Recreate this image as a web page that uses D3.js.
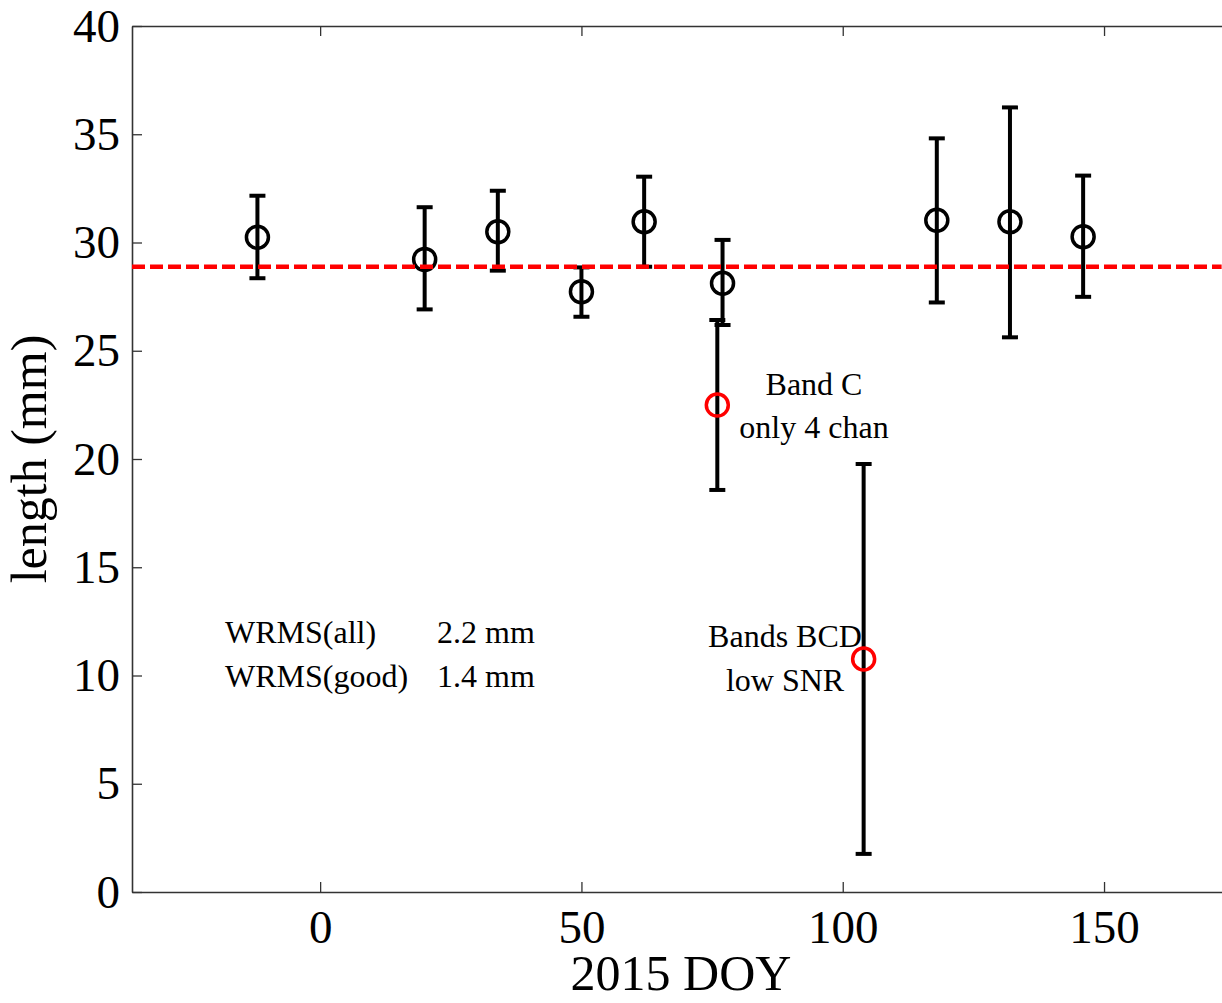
<!DOCTYPE html>
<html>
<head>
<meta charset="utf-8">
<script src="https://cdn.jsdelivr.net/npm/d3@7"></script>
<style>
  html, body { margin: 0; padding: 0; background: #fff; }
  svg { display: block; }
  text { font-family: "Liberation Serif", "Times New Roman", serif; fill: #000; }
</style>
</head>
<body>
<script>
// ---- data ----
const goodDoy    = [-12, 20, 34, 50, 62, 77, 118, 132, 146];
const goodLength = [30.24, 29.22, 30.50, 27.73, 30.96, 28.12, 31.03, 30.96, 30.27];
const goodLow    = [28.35, 26.91, 28.70, 26.57, 28.88, 26.19, 27.23, 25.62, 27.49];
const goodHigh   = [32.16, 31.63, 32.39, 28.85, 33.04, 30.12, 34.81, 36.24, 33.09];

const badDoy     = [76, 104];
const badLength  = [22.49, 10.76];
const badLow     = [18.57, 1.76];
const badHigh    = [26.42, 19.77];

const meanLength = 28.88;

const xTicks = [0, 50, 100, 150];
const yTicks = [0, 5, 10, 15, 20, 25, 30, 35, 40];
const xDomain = [-36, 172.5];
const yDomain = [0, 40];

const statsLabels = ["WRMS(all)", "WRMS(good)"];
const statsValues = ["2.2 mm", "1.4 mm"];
const note1 = ["Band C", "only 4 chan"];
const note2 = ["Bands BCD", "low SNR"];

// ---- layout ----
const W = 1222, H = 1003;
const mLeft = 132, mTop = 26, mBottom = 892;
const mRight = mLeft + (xDomain[1] - xDomain[0]) * 5.226;

const svg = d3.select("body").append("svg").attr("width", W).attr("height", H);

const x = d3.scaleLinear().domain(xDomain).range([mLeft, mRight]);
const y = d3.scaleLinear().domain(yDomain).range([mBottom, mTop]);

const axisColor = "#333";

// bottom axis
const gx = svg.append("g").attr("transform", `translate(0,${mBottom})`)
  .call(d3.axisBottom(x).tickValues(xTicks).tickSizeInner(-10).tickSizeOuter(0).tickPadding(18).tickFormat(d3.format("d")));
// left axis
const gy = svg.append("g").attr("transform", `translate(${mLeft},0)`)
  .call(d3.axisLeft(y).tickValues(yTicks).tickSizeInner(-10).tickSizeOuter(0).tickPadding(12).tickFormat(d3.format("d")));
// top axis (mirror ticks, no labels)
const gt = svg.append("g").attr("transform", `translate(0,${mTop})`)
  .call(d3.axisTop(x).tickValues(xTicks).tickSizeInner(-10).tickSizeOuter(0).tickFormat(""));

[gx, gy, gt].forEach(g => {
  g.select(".domain").attr("stroke", axisColor).attr("stroke-width", 1.6);
  g.selectAll(".tick line").attr("stroke", axisColor).attr("stroke-width", 1.3);
  g.selectAll(".tick text").attr("font-size", 47).attr("fill", "#000")
    .style("font-family", '"Liberation Serif", "Times New Roman", serif');
});

// axis labels
svg.append("text").attr("x", 681).attr("y", 990).attr("text-anchor", "middle")
  .attr("font-size", 50).text("2015 DOY");
svg.append("text").attr("transform", `translate(46,${(mTop + mBottom) / 2}) rotate(-90)`)
  .attr("text-anchor", "middle").attr("font-size", 50).text("length (mm)");

// error bars helper
const capHalf = 8;
function drawErr(g, xs, lows, highs) {
  xs.forEach((d, i) => {
    const cx = x(d), y1 = y(lows[i]), y2 = y(highs[i]);
    g.append("line").attr("x1", cx).attr("x2", cx).attr("y1", y1).attr("y2", y2);
    g.append("line").attr("x1", cx - capHalf).attr("x2", cx + capHalf).attr("y1", y1).attr("y2", y1);
    g.append("line").attr("x1", cx - capHalf).attr("x2", cx + capHalf).attr("y1", y2).attr("y2", y2);
  });
}

const errG = svg.append("g").attr("stroke", "#000").attr("stroke-width", 4);
drawErr(errG, goodDoy, goodLow, goodHigh);
drawErr(errG, badDoy, badLow, badHigh);

// good points
svg.append("g").selectAll("circle").data(goodDoy).join("circle")
  .attr("cx", d => x(d)).attr("cy", (d, i) => y(goodLength[i])).attr("r", 11)
  .attr("fill", "none").attr("stroke", "#000").attr("stroke-width", 3.5);

// mean dashed line
svg.append("line").attr("x1", mLeft).attr("x2", mRight)
  .attr("y1", y(meanLength)).attr("y2", y(meanLength))
  .attr("stroke", "#ff0000").attr("stroke-width", 4.5).attr("stroke-dasharray", "13,5");

// bad points
svg.append("g").selectAll("circle").data(badDoy).join("circle")
  .attr("cx", d => x(d)).attr("cy", (d, i) => y(badLength[i])).attr("r", 11)
  .attr("fill", "none").attr("stroke", "#ff0000").attr("stroke-width", 3.5);

// annotations
const fs = 32;
statsLabels.forEach((t, i) => {
  svg.append("text").attr("x", 225).attr("y", 643 + i * 44).attr("font-size", fs).text(t);
  svg.append("text").attr("x", 437).attr("y", 643 + i * 44).attr("font-size", fs).text(statsValues[i]);
});
note1.forEach((t, i) => {
  svg.append("text").attr("x", 814).attr("y", 395 + i * 43).attr("text-anchor", "middle").attr("font-size", fs).text(t);
});
note2.forEach((t, i) => {
  svg.append("text").attr("x", 785).attr("y", 647 + i * 44).attr("text-anchor", "middle").attr("font-size", fs).text(t);
});
</script>
</body>
</html>
